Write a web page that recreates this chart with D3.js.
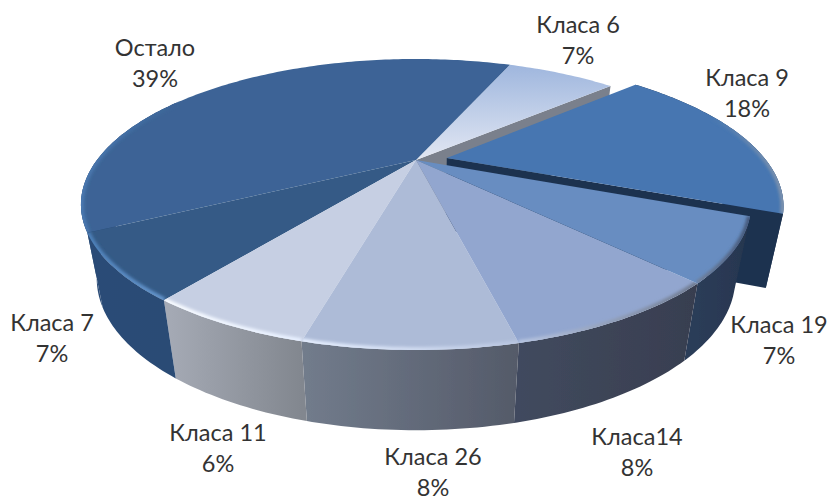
<!DOCTYPE html>
<html><head><meta charset="utf-8">
<script src="https://cdn.jsdelivr.net/npm/d3@7"></script>
<style>html,body{margin:0;padding:0;background:#fff}svg{display:block}</style>
</head><body><div id="c"></div>
<script>
const categories = ["Класа 6","Класа 9","Класа 19","Класа14","Класа 26","Класа 11","Класа 7","Остало"];
const values = [7,18,6.8,8.4,7.7,6.1,7,39];
const percentLabels = ["7%","18%","7%","8%","8%","6%","7%","39%"];
const topColors = ["url(#g6)","#4676b1","#678dc1","#92a6cf","#adbbd7","#c6cfe3","#345a86","#3c6496"];
const rimFrom = [null,"#4a78b0","#707f9a","#b8c6e2","#e6efff","#f8fbff","#4d7fb8","#4a78b0"];
const rimTo   = [null,"#7d92ad","#44587a","#6e7a90","#b8c5e0","#e6efff","#6595cc","#3c6496"];
const sideFrom = ["#7a808c","#1d3250","#2c3c58","#414a5e","#727c8c","#a6abb6","#2a4c77","#2c4d78"];
const sideTo   = ["#7a808c","#1d3250","#27364f","#383e50","#545a69","#82878f","#2b4b75","#2c4d78"];
const labelX = [578,747,779,637,433,218,52,155];
const labelY = [33,86,333,445,465,441,331,56];

const W=829,H=497,R=Math.PI/180;
const k=0.3058, Du=0.097, Dv=-0.015;
const sx=d3.scaleLinear().domain([-1,1]).range([416-319,416+319]);
const sy=d3.scaleLinear().domain([-1,1]).range([160-131.9,160+131.9]);
function proj(u,v){const s=1/(1-k*v);return [sx(u*s),sy(v*s)];}
function low(p){return [416+(p[0]-416)*0.953, p[1]+80+0.044*(p[1]-345)];}

const svg=d3.select("#c").append("svg").attr("width",W).attr("height",H);
const defs=svg.append("defs");
const g6=defs.append("linearGradient").attr("id","g6").attr("gradientUnits","userSpaceOnUse")
  .attr("x1",0).attr("x2",0).attr("y1",62).attr("y2",160);
g6.append("stop").attr("offset",0).attr("stop-color","#9db5dd");
g6.append("stop").attr("offset",1).attr("stop-color","#e2e7f3");
defs.append("filter").attr("id","soft").attr("x","-5%").attr("y","-5%").attr("width","110%").attr("height","110%")
  .append("feGaussianBlur").attr("stdDeviation",0.45);
defs.append("filter").attr("id","rimblur").attr("filterUnits","userSpaceOnUse")
  .attr("x",0).attr("y",0).attr("width",W).attr("height",H)
  .append("feGaussianBlur").attr("stdDeviation",1.6);

function hGrad(id,pts,c0,c1){
  const g=defs.append("linearGradient").attr("id",id).attr("gradientUnits","userSpaceOnUse")
    .attr("x1",d3.min(pts,p=>p[0])).attr("x2",d3.max(pts,p=>p[0])).attr("y1",0).attr("y2",0);
  g.append("stop").attr("offset",0).attr("stop-color",c0);
  g.append("stop").attr("offset",1).attr("stop-color",c1);
}

const pie=d3.pie().value(d=>d).sort(null).startAngle(22.2*R).endAngle(382.2*R);
const arcs=pie(values);
const line=d3.line();
const root=svg.append("g").attr("filter","url(#soft)");

arcs.forEach((a,i)=>{
  a.off=i===1?[Du,Dv]:[0,0];
  a.pt=t=>proj(Math.sin(t)+a.off[0],-Math.cos(t)+a.off[1]);
  a.apex=proj(a.off[0],a.off[1]);
  a.rim=d3.range(a.startAngle,a.endAngle,R).concat([a.endAngle]).map(a.pt);
  a.face=[a.apex,...a.rim];
  hGrad("s"+i,a.rim,sideFrom[i],sideTo[i]);
  defs.append("clipPath").attr("id","t"+i).append("path").attr("d",line(a.face)+"Z");
});
function drawSide(i,from,to){
  const a=arcs[i];
  const pts=d3.range(from,to,R).concat([to]).map(a.pt);
  root.append("path").attr("d",line([...pts,...pts.slice().reverse().map(low)])+"Z")
    .attr("fill","url(#s"+i+")");
}
function drawCut(i,t,color){
  const a=arcs[i],p=a.pt(t);
  root.append("path").attr("d",line([a.apex,p,low(p),low(a.apex)])+"Z").attr("fill",color);
}
function drawTop(i){
  const a=arcs[i];
  root.append("path").attr("d",line(a.face)+"Z").attr("fill",topColors[i]);
  if(rimFrom[i]){
    const from=Math.max(a.startAngle,70*R),to=Math.min(a.endAngle,(i===7?300:400)*R);
    const pts=d3.range(from,to,R).concat([to]).map(a.pt);
    hGrad("r"+i,pts,rimFrom[i],rimTo[i]);
    root.append("g").attr("clip-path","url(#t"+i+")").append("path")
      .attr("d",line(pts)).attr("fill","none").attr("stroke","url(#r"+i+")")
      .attr("stroke-width",6).attr("filter","url(#rimblur)");
  }
}
// back faces first, so nearer faces overlap them
drawSide(7,arcs[7].startAngle,300*R);
drawCut(0,arcs[0].endAngle,sideFrom[0]);
drawSide(1,arcs[1].startAngle,arcs[1].endAngle);
drawCut(1,arcs[1].endAngle,sideFrom[1]);
drawTop(1);
drawTop(0);
[2,3,4,5,6].forEach(i=>drawSide(i,arcs[i].startAngle,arcs[i].endAngle));
[7,6,5,4,3,2].forEach(drawTop);

const lab=svg.append("g").attr("font-family","Lato, 'Open Sans', sans-serif").attr("font-size",23.5)
  .attr("fill","#333333").attr("text-anchor","middle");
categories.forEach((c,i)=>{
  lab.append("text").attr("x",labelX[i]).attr("y",labelY[i]).text(c);
  lab.append("text").attr("x",labelX[i]).attr("y",labelY[i]+31).text(percentLabels[i]);
});
</script></body></html>
